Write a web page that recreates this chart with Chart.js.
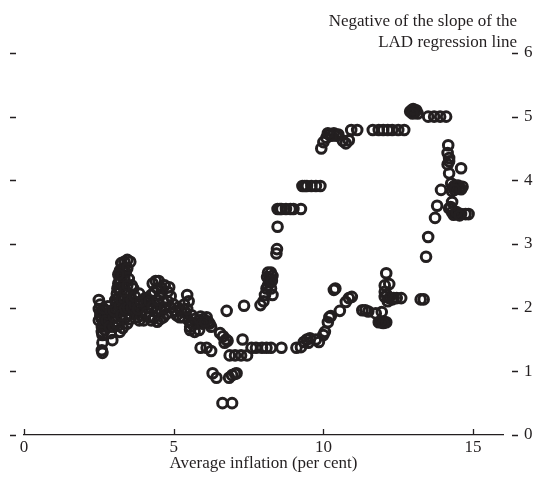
<!DOCTYPE html>
<html>
<head>
<meta charset="utf-8">
<script src="https://cdn.jsdelivr.net/npm/chart.js@4.4.0/dist/chart.umd.min.js"></script>
<style>
  html, body { margin: 0; padding: 0; background: #fff; }
  #wrap { width: 541px; height: 477px; }
</style>
</head>
<body>
<div id="wrap"><canvas id="lad"></canvas></div>
<script>
const ink = '#231f20';

/* points: [average inflation, negative LAD slope] */

const lowInflation = [
  [2.5,2.12],[2.55,2.05],[2.5,1.98],[2.6,1.92],[2.55,1.87],[2.6,1.82],[2.5,1.8],
  [2.65,1.76],[2.6,1.7],[2.7,1.85],[2.75,1.95],[2.7,1.72],[2.62,1.57],[2.62,1.45],
  [2.6,1.33],[2.62,1.29],[2.95,1.49],[2.9,1.6],[2.85,1.78],[2.8,1.9],[2.8,2.02],
  [2.55,1.93],[2.65,1.99],[2.7,1.65],[2.6,1.62],[2.75,1.8],[2.85,1.7],[2.9,1.95],
  [3.0,1.7],[3.05,1.78],[3.0,1.86],[3.1,1.92],[3.05,2.0],[3.1,2.08],[3.15,2.15],
  [3.1,2.22],[3.2,2.3],[3.15,2.38],[3.2,2.45],[3.25,2.52],[3.2,2.58],[3.3,2.62],
  [3.25,2.7],[3.35,2.72],[3.45,2.75],[3.55,2.72],[3.4,2.55],[3.35,2.45],[3.3,2.35],
  [3.4,2.25],[3.3,2.15],[3.4,2.05],[3.3,1.95],[3.4,1.85],[3.25,1.8],[3.5,1.9],
  [3.5,2.1],[3.55,2.2],[3.6,2.35],[3.5,2.45],[3.15,1.72],[3.3,1.68],[3.45,1.75],
  [3.2,1.62],[3.0,1.95],[3.05,2.12],[3.12,2.3],[3.22,2.4],[3.28,2.5],[3.35,2.6],
  [3.2,2.02],[3.25,2.12],[3.35,2.25],[3.45,2.35],[3.45,2.62],[3.25,1.88],
  [3.38,1.98],[3.48,2.0],[3.55,1.82],[3.6,2.0],[3.6,2.12],[3.15,2.52]
];

const midInflation = [
  [3.65,2.3],[3.7,2.05],[3.75,1.92],[3.8,1.85],[3.85,1.8],[3.9,1.88],[3.95,1.95],
  [4.0,2.05],[4.05,2.15],[4.1,2.1],[4.0,1.8],[4.2,1.85],[4.15,2.0],[4.25,2.2],
  [4.3,2.38],[4.4,2.42],[4.5,2.42],[4.45,2.3],[4.55,2.2],[4.6,2.3],[4.7,2.35],
  [4.8,2.25],[4.85,2.32],[4.65,2.1],[4.5,2.05],[4.4,1.95],[4.6,1.95],[4.75,1.9],
  [4.9,2.0],[4.8,2.1],[4.35,1.85],[4.55,1.82],[3.7,2.18],[3.8,1.98],[3.9,2.1],
  [4.1,1.92],[4.2,2.1],[4.3,2.02],[4.35,2.25],[4.45,2.12],[4.7,2.0],[4.9,2.18],
  [4.25,1.8],[4.45,1.78],[4.65,1.85],[3.85,2.22],
  [5.0,2.05],[5.05,1.95],[5.1,1.88],[5.2,1.85],[5.25,1.95],[5.35,2.05],[5.45,2.2],
  [5.5,2.1],[5.4,1.92],[5.5,1.8],[5.55,1.7],[5.6,1.88],[5.7,1.82],[5.75,1.75],
  [5.85,1.8],[5.9,1.86],[6.0,1.82],[6.1,1.85],[6.15,1.78],[6.2,1.75],[6.25,1.7],
  [5.55,1.65],[5.85,1.65],[5.7,1.62],[5.15,2.0],[5.3,1.85],[5.6,1.75],[5.95,1.75],
  [6.05,1.78],[5.45,1.98],
  [5.9,1.37],[6.1,1.37],[6.25,1.32],[6.3,0.97],[6.43,0.9],[6.63,0.5],[6.95,0.5],
  [6.55,1.6],[6.65,1.55],[6.75,1.5],[6.7,1.45],[6.8,1.48],[6.77,1.95],[7.3,1.5],
  [7.35,2.03],[6.87,1.25],[7.05,1.25],[7.25,1.25],[7.45,1.25],
  [6.85,0.9],[6.95,0.94],[7.05,0.96],[7.1,0.97],
  [7.6,1.37],[7.75,1.37],[7.95,1.37],[8.1,1.37],[8.25,1.37],[8.6,1.37],
  [7.9,2.04],[8.0,2.1],[8.05,2.2],[8.1,2.3],[8.2,2.45],[8.15,2.55],[8.25,2.55],
  [8.3,2.5],[8.2,2.4],[8.25,2.3],[8.15,2.35],[8.12,2.48],[8.28,2.42],[8.3,2.2],
  [8.43,2.85],[8.45,2.92],[8.47,3.27],
  [8.47,3.55],[8.6,3.55],[8.75,3.55],[8.9,3.55],[9.0,3.55],[9.25,3.55],[8.55,3.55],
  [9.3,3.91],[9.45,3.91],[9.6,3.91],[9.75,3.91],[9.9,3.91],[9.38,3.91]
];

const highInflation = [
  [9.1,1.37],[9.25,1.38],[9.35,1.46],[9.45,1.5],[9.55,1.52],[9.75,1.5],[9.85,1.46],
  [10.0,1.57],[10.05,1.62],[10.15,1.77],[10.2,1.85],[10.25,1.87],[10.55,1.95],
  [10.75,2.09],[10.85,2.15],[10.95,2.17],[10.4,2.3],[10.35,2.28],[9.5,1.45],
  [11.3,1.96],[11.4,1.96],[11.5,1.94],[11.75,1.91],[11.95,1.93],
  [11.85,1.77],[11.95,1.77],[12.05,1.77],[12.1,1.77],[11.9,1.78],[12.0,1.76],
  [12.1,2.54],[12.05,2.35],[12.2,2.37],[12.05,2.17],[12.2,2.15],[12.3,2.13],
  [12.45,2.15],[12.6,2.15],[13.25,2.13],[13.35,2.13],[12.05,2.25],[12.15,2.1],
  [12.35,2.15],[12.12,2.2],
  [13.43,2.8],[13.5,3.11],[13.73,3.41],[13.8,3.6],[13.93,3.85],
  [14.2,3.56],[14.3,3.5],[14.4,3.48],[14.5,3.48],[14.6,3.47],[14.75,3.47],
  [14.85,3.47],[14.3,3.66],[14.25,3.58],[14.35,3.46],[14.45,3.5],[14.55,3.45],
  [14.27,3.95],[14.35,3.9],[14.45,3.88],[14.55,3.88],[14.65,3.9],[14.3,3.83],
  [14.4,3.92],[14.5,3.92],[14.6,3.86],[14.38,3.85],
  [14.2,4.11],[14.6,4.19],[14.15,4.25],[14.2,4.35],[14.15,4.43],[14.2,4.3],[14.17,4.55],
  [13.5,5.0],[13.7,5.0],[13.9,5.0],[14.1,5.0],
  [12.9,5.08],[12.95,5.1],[13.05,5.07],[13.1,5.1],[13.15,5.05],[13.0,5.12],[12.98,5.05],
  [11.65,4.79],[11.85,4.79],[12.0,4.79],[12.15,4.79],[12.3,4.79],[12.5,4.79],
  [12.7,4.79],[10.93,4.79],[11.13,4.79],
  [9.93,4.5],[10.0,4.6],[10.1,4.67],[10.2,4.72],[10.35,4.74],[10.5,4.72],
  [10.65,4.62],[10.75,4.58],[10.85,4.63],[10.45,4.7],[10.28,4.7],[10.15,4.74]
];

const xTicks = [0, 5, 10, 15];
const yTicks = [0, 1, 2, 3, 4, 5, 6];
const titleLines = ['Negative of the slope of the', 'LAD regression line'];
const xTitle = 'Average inflation (per cent)';

const points = lowInflation.concat(midInflation, highInflation)
  .map(p => ({x: p[0], y: p[1]}));

const serif = '"Liberation Serif", "DejaVu Serif", serif';

/* inward x ticks, dashes on both sides, title at top right */
const axisMarks = {
  id: 'axisMarks',
  afterDraw(chart){
    const {ctx, scales:{x, y}} = chart;
    ctx.save();
    ctx.strokeStyle = ink;
    ctx.lineWidth = 1.3;
    ctx.beginPath();
    yTicks.forEach(v => {
      const py = Math.round(y.getPixelForValue(v)) + 0.5;
      ctx.moveTo(10, py); ctx.lineTo(16, py);
      ctx.moveTo(512, py); ctx.lineTo(518, py);
    });
    xTicks.forEach(v => {
      const px = Math.round(x.getPixelForValue(v)) + 0.5;
      ctx.moveTo(px, y.bottom); ctx.lineTo(px, y.bottom - 6);
    });
    ctx.stroke();

    ctx.fillStyle = ink;
    ctx.font = '17px ' + serif;
    ctx.textAlign = 'right';
    ctx.textBaseline = 'alphabetic';
    titleLines.forEach((t, i) => ctx.fillText(t, 517, 26 + i * 21));
    ctx.restore();
  }
};

new Chart(document.getElementById('lad'), {
  type: 'scatter',
  data: {
    datasets: [{
      data: points,
      backgroundColor: 'rgba(0,0,0,0)',
      borderColor: ink,
      borderWidth: 3,
      pointRadius: 4.8,
      pointHoverRadius: 4.8
    }]
  },
  options: {
    responsive: true,
    maintainAspectRatio: false,
    animation: false,
    layout: { padding: {top: 53, left: 0, right: 0, bottom: 0}, autoPadding: false },
    plugins: { legend: {display: false}, tooltip: {enabled: false} },
    scales: {
      x: {
        type: 'linear',
        min: 0, max: 16,
        afterBuildTicks: s => { s.ticks = xTicks.map(v => ({value: v})); },
        afterFit: s => { s.height = 42; },
        grid: { display: false, drawTicks: false },
        border: { display: true, color: ink, width: 1.3 },
        ticks: { color: ink, font: {family: serif, size: 17}, padding: 2, maxRotation: 0 },
        title: { display: true, text: xTitle, color: ink,
                 font: {family: serif, size: 17}, padding: {top: 0, bottom: 3} }
      },
      y: {
        position: 'left',
        min: 0, max: 6,
        afterFit: s => { s.width = 24; },
        grid: { display: false, drawTicks: false },
        border: { display: false },
        ticks: { display: false }
      },
      y2: {
        position: 'right',
        min: 0, max: 6,
        afterBuildTicks: s => { s.ticks = yTicks.map(v => ({value: v})); },
        afterFit: s => { s.width = 38; },
        grid: { display: false, drawTicks: false },
        border: { display: false },
        ticks: { color: ink, font: {family: serif, size: 17}, padding: 21 }
      }
    }
  },
  plugins: [axisMarks]
});
</script>
</body>
</html>
